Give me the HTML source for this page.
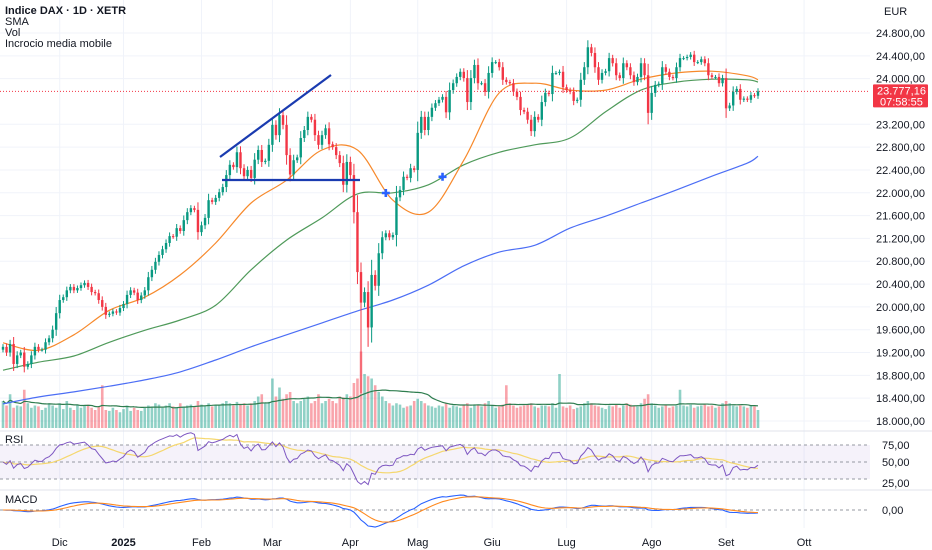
<!DOCTYPE html>
<html><head><meta charset="utf-8"><style>
html,body{margin:0;padding:0;background:#fff;}
svg{display:block;font-family:"Liberation Sans",sans-serif;}
</style></head><body>
<svg id="chart" width="932" height="550" viewBox="0 0 932 550" xmlns="http://www.w3.org/2000/svg">
<rect x="0" y="0" width="932" height="550" fill="#ffffff"/>
<g id="grid"></g>
<g id="volume"></g>
<g id="mas"></g>
<g id="candles"></g>
<g id="drawings">
  <line x1="220" y1="157" x2="331" y2="75" stroke="#1a3bb0" stroke-width="2.2"/>
  <line x1="222" y1="180" x2="360" y2="180" stroke="#1a3bb0" stroke-width="2.2"/>
</g>
<g id="panes"></g>
<g id="axes"></g>
<g font-size="11" fill="#131722">
  <text x="5" y="14" font-weight="bold">Indice DAX · 1D · XETR</text>
  <text x="5" y="25">SMA</text>
  <text x="5" y="36">Vol</text>
  <text x="5" y="47">Incrocio media mobile</text>
</g>
<text x="884" y="15" font-size="11" fill="#131722">EUR</text>
</svg>
<script>
const closes = [19300,19200,19350,19000,19150,19200,18950,19000,19150,19300,19250,19250,
19380,19450,19600,19890,20120,20170,20290,20350,20290,20330,
20380,20420,20350,20260,20240,20120,20000,19860,19880,19920,
19900,19980,20050,20210,20290,20250,20120,20200,
20290,20520,20650,20790,20910,21010,21120,21240,21230,21380,
21330,21520,21660,21730,21700,21310,21430,21560,21870,21840,
21910,22010,22100,22310,22490,22450,22710,22430,22290,22400,
22260,22580,22750,22540,22560,22840,23190,23010,23360,23190,
22660,22320,22570,22620,22960,23100,23330,23280,23010,22840,
23010,23130,22850,22800,22660,22520,22140,22540,22310,21660,
20610,20075,20260,19640,20560,20370,20940,21220,21290,21220,
21260,21920,22050,22280,22260,22430,22400,23050,
23330,23100,23330,23490,23570,23630,23680,23410,23800,23920,
24030,24120,24010,23590,24010,24240,23920,23920,23770,24100,
24290,24290,24200,23980,23940,23920,23770,23680,23450,23420,
23280,23080,23330,23280,23590,23750,23730,24100,24100,24120,
23850,23800,23770,23610,23630,23980,24200,24550,24450,24200,
23980,24100,24130,24360,24270,24060,24010,24270,24200,24060,
23940,24030,24270,24060,23400,23750,23890,23910,24200,24120,
24030,24010,24200,24360,24360,24380,24420,24290,24290,24340,
24270,24060,24030,24030,23920,24010,23480,23530,23770,23820,
23630,23650,23630,23710,23700,23777];
const volumes = [60,50,75,45,50,48,85,55,45,50,48,40,
45,55,50,45,55,42,60,45,40,50,
45,50,52,45,40,48,95,40,38,45,
40,35,42,50,38,45,40,38,
45,50,48,55,52,45,50,55,48,45,
55,48,50,52,48,60,52,50,55,48,
50,52,55,60,55,50,58,52,55,50,
55,60,70,75,55,58,110,70,90,65,
75,80,60,55,60,65,70,55,60,75,
55,60,65,60,55,70,68,75,70,100,
110,170,120,115,110,95,80,70,60,55,
50,55,52,45,48,50,60,65,
60,55,50,48,45,50,48,55,45,50,
48,45,50,55,45,50,52,48,55,60,
50,45,48,52,95,55,50,45,48,50,
52,55,48,45,50,50,48,55,45,120,
48,45,50,42,45,48,55,60,55,50,
48,45,42,50,48,52,45,50,55,52,
50,48,55,65,75,55,50,45,48,50,
45,48,50,85,50,48,52,45,48,50,
52,48,50,45,48,55,60,55,50,48,
50,48,45,50,48,40];
const lowOverrides = {101:18490, 100:20400, 103:19300};
const maIdx = [0,10,20,30,40,50,60,70,80,90,100,110,120,130,140,150,160,170,180,190,200,210,213];
const sma20 = [19370,19240,19510,19940,20170,20560,21120,21820,22220,22750,22750,21870,21660,22570,23750,23920,23800,23800,23990,24100,24130,24050,23980];
const sma50 = [18890,19030,19140,19380,19590,19770,20030,20650,21170,21560,21980,22000,22140,22490,22710,22840,22960,23420,23800,23940,23990,23980,23940];
const sma200 = [18300,18420,18510,18610,18720,18860,19070,19300,19510,19720,19930,20120,20380,20720,20960,21080,21380,21590,21820,22050,22290,22520,22640];
const crossIdx = [108,124];
const priceTicks = [24800,24400,24000,23200,22800,22400,22000,21600,21200,20800,20400,20000,19600,19200,18800,18400,18000];
const monthLabels = ["Dic","2025","Feb","Mar","Apr","Mag","Giu","Lug","Ago","Set","Ott"];
const monthIdx = [16,34,56,76,98,117,138,159,183,204,226];
const lastPrice = 23777.16;

const NS="http://www.w3.org/2000/svg";
const N = closes.length;
const X = i => 3 + i*(755/213);
const Y = p => 33 + (24800-p)*0.05706;
function mk(tag, attrs, parent){const e=document.createElementNS(NS,tag);for(const k in attrs)e.setAttribute(k,attrs[k]);parent.appendChild(e);return e;}
const fmt = v => { const s=Math.abs(v).toFixed(2).split('.'); return (v<0?'−':'')+s[0].replace(/\B(?=(\d{3})+(?!\d))/g,'.')+','+s[1]; };
function smooth(pts){
  let d='M'+pts[0][0].toFixed(1)+' '+pts[0][1].toFixed(1);
  for(let i=0;i<pts.length-1;i++){
    const p0=pts[Math.max(0,i-1)],p1=pts[i],p2=pts[i+1],p3=pts[Math.min(pts.length-1,i+2)];
    const c1x=p1[0]+(p2[0]-p0[0])/6,c1y=p1[1]+(p2[1]-p0[1])/6;
    const c2x=p2[0]-(p3[0]-p1[0])/6,c2y=p2[1]-(p3[1]-p1[1])/6;
    d+=` C${c1x.toFixed(1)} ${c1y.toFixed(1)} ${c2x.toFixed(1)} ${c2y.toFixed(1)} ${p2[0].toFixed(1)} ${p2[1].toFixed(1)}`;
  }
  return d;
}

const grid=document.getElementById('grid'), axes=document.getElementById('axes');
monthLabels.forEach((m,k)=>{
  const x=X(monthIdx[k]);
  const gl=mk('line',{x1:x,y1:0,x2:x,y2:528,stroke:'#f0f3fa','stroke-width':1},grid);
  
  
  const t=mk('text',{x:x,y:546,'font-size':11,fill:'#131722','text-anchor':'middle','font-weight':m==='2025'?'bold':'normal'},axes);
  t.textContent=m;
  
  
});
priceTicks.forEach(p=>{
  const y=Y(p);
  const gl=mk('line',{x1:0,y1:y,x2:870,y2:y,stroke:'#f0f3fa','stroke-width':1},grid);
  
  
  const t=mk('text',{x:876,y:y+4,'font-size':11,fill:'#131722'},axes);
  t.textContent=fmt(p);
  
  
});

const opens = closes.map((c,i)=> i===0 ? 19250 : closes[i-1]);
const vg=document.getElementById('volume');
const VB=428, VS=0.45;
for(let i=0;i<N;i++){
  const up=closes[i]>=opens[i];
  const h=volumes[i]*VS;
  const r=mk('rect',{x:X(i)-1.3,y:VB-h,width:2.6,height:h,fill:up?'rgba(8,153,129,0.45)':'rgba(242,54,69,0.45)'},vg);
  
  
}
let vpts=[];
for(let i=0;i<N;i++){const s=Math.max(0,i-19);let a=0;for(let j=s;j<=i;j++)a+=volumes[j];vpts.push([X(i),VB-a/(i-s+1)*VS]);}
const vma=mk('path',{d:smooth(vpts),fill:'none',stroke:'#2e7d4f','stroke-width':1.2},vg);



const mg=document.getElementById('mas');
[[sma200,'#4c6ef5','sma200-line'],[sma50,'#4f9a5a','sma50-line'],[sma20,'#f7892b','sma20-line']].forEach(([arr,col,nm])=>{
  const pts=arr.map((v,k)=>[X(maIdx[k]),Y(v)]);
  const pl=mk('path',{d:smooth(pts),fill:'none',stroke:col,'stroke-width':1.2},mg);
  
  
});

const lp=mk('line',{x1:0,y1:Y(lastPrice),x2:870,y2:Y(lastPrice),stroke:'#f23645','stroke-width':1,'stroke-dasharray':'1,2'},mg);



const cg=document.getElementById('candles');
for(let i=0;i<N;i++){
  const o=opens[i],c=closes[i],up=c>=o,col=up?'#089981':'#f23645';
  const w=Math.abs(c-o)*0.25+35;
  const hi=Math.max(o,c)+w, lo=lowOverrides[i]!==undefined?lowOverrides[i]:Math.min(o,c)-w;
  const g=mk('g',{},cg);
  
  
  mk('line',{x1:X(i),y1:Y(hi),x2:X(i),y2:Y(lo),stroke:col,'stroke-width':1},g);
  const yt=Y(Math.max(o,c)), yb=Y(Math.min(o,c));
  mk('rect',{x:X(i)-1.2,y:yt,width:2.4,height:Math.max(1,yb-yt),fill:col},g);
}
crossIdx.forEach(i=>{
  const k=maIdx.findIndex(v=>v>=i);
  const t=(i-maIdx[k-1])/(maIdx[k]-maIdx[k-1]);
  const v=sma50[k-1]+(sma50[k]-sma50[k-1])*t;
  const x=X(i),y=Y(v);
  const p=mk('path',{d:`M${x-4} ${y}H${x+4}M${x} ${y-4}V${y+4}`,stroke:'#2962ff','stroke-width':2.6},cg);
  
  
});

const pb=mk('rect',{x:873,y:Y(lastPrice)-7,width:55,height:23,fill:'#f23645',rx:1},axes);


const t1=mk('text',{x:877,y:Y(lastPrice)+3,'font-size':11,fill:'#fff'},axes);t1.textContent=fmt(lastPrice);


const t2=mk('text',{x:880,y:Y(lastPrice)+14,'font-size':11,fill:'#fff'},axes);t2.textContent='07:58:55';



const pg=document.getElementById('panes');
[431,490].forEach(y=>{const l=mk('line',{x1:0,y1:y,x2:932,y2:y,stroke:'#e0e3eb','stroke-width':1},pg);
  
  });
const RY = v => 462 - (v-50)*0.85;
const band=mk('rect',{x:0,y:RY(70),width:870,height:RY(30)-RY(70),fill:'#7e57c2','fill-opacity':0.08},pg);


[70,50,30].forEach(v=>{const l=mk('line',{x1:0,y1:RY(v),x2:870,y2:RY(v),stroke:'#9598a1','stroke-width':1,'stroke-dasharray':'3,3'},pg);
  
  });
let ag=70,al=70;const rsi=[];
for(let i=0;i<N;i++){const d=i===0?0:closes[i]-closes[i-1];const g=Math.max(d,0),l=Math.max(-d,0);
  ag=(ag*13+g)/14;al=(al*13+l)/14;
  rsi.push(al===0?100:100-100/(1+ag/al));}
const rsiMa=rsi.map((v,i)=>{const s=Math.max(0,i-13);let a=0;for(let j=s;j<=i;j++)a+=rsi[j];return a/(i-s+1);});
const rl=mk('polyline',{points:rsiMa.map((v,i)=>X(i).toFixed(1)+','+RY(v).toFixed(1)).join(' '),fill:'none',stroke:'#f5d76e','stroke-width':1.2},pg);


const rr=mk('polyline',{points:rsi.map((v,i)=>X(i).toFixed(1)+','+RY(v).toFixed(1)).join(' '),fill:'none',stroke:'#7e57c2','stroke-width':1},pg);


[['RSI',5,443],['MACD',5,503]].forEach(([s,x,y])=>{const t=mk('text',{x:x,y:y,'font-size':11,fill:'#131722'},pg);t.textContent=s;
  
  });
[['75,00',449],['50,00',466],['25,00',487],['0,00',514]].forEach(([s,y])=>{const t=mk('text',{x:882,y:y,'font-size':11,fill:'#131722'},pg);t.textContent=s;
  
  });
const ema=(arr,n)=>{const k=2/(n+1);const o=[arr[0]];for(let i=1;i<arr.length;i++)o.push(arr[i]*k+o[i-1]*(1-k));return o;};
const e12=ema(closes,12),e26=ema(closes,26);
const macd=e12.map((v,i)=>v-e26[i]);const sig=ema(macd,9);
const mx=Math.max(...macd.map(Math.abs),1);
const MY=v=>510 - v*(17/mx);
const z=mk('line',{x1:0,y1:510,x2:870,y2:510,stroke:'#9598a1','stroke-width':1,'stroke-dasharray':'3,3'},pg);


const ml=mk('polyline',{points:macd.map((v,i)=>X(i).toFixed(1)+','+MY(v).toFixed(1)).join(' '),fill:'none',stroke:'#2962ff','stroke-width':1.1},pg);


const sl=mk('polyline',{points:sig.map((v,i)=>X(i).toFixed(1)+','+MY(v).toFixed(1)).join(' '),fill:'none',stroke:'#ff8a1f','stroke-width':1.1},pg);


</script>
</body></html>
